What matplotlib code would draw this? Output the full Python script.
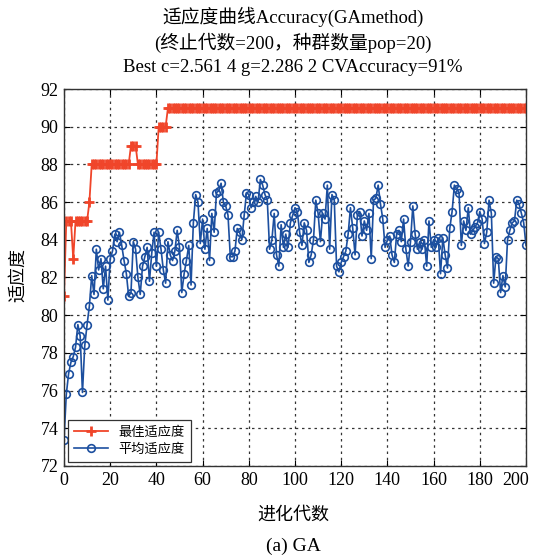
# -*- coding: utf-8 -*-
"""
GA fitness curve (best / mean fitness vs generation)
"""

import numpy as np
import matplotlib.pyplot as plt
import matplotlib.transforms as mtransforms

# Best fitness: step values and how many generations each one lasts
best_levels = [81, 85, 83, 85, 86, 88, 89, 88, 90, 91]
best_runs = [1, 3, 1, 6, 1, 17, 3, 9, 4, 156]

# Mean fitness per generation (0..200)
mean_fit = [
    73.4, 75.8, 76.9, 77.5, 77.8, 78.3, 79.5, 78.9, 75.9, 78.4,
    79.5, 80.5, 82.1, 81.1, 83.5, 82.4, 83.0, 81.4, 82.6, 80.8,
    83.0, 83.4, 84.3, 83.9, 84.4, 83.7, 82.9, 82.2, 81.0, 81.2,
    83.9, 83.5, 82.0, 81.1, 82.6, 83.1, 83.6, 81.8, 83.3, 84.4,
    82.6, 84.4, 83.5, 82.4, 81.7, 83.9, 83.2, 82.9, 83.4, 84.5,
    83.6, 81.2, 82.2, 82.9, 83.7, 81.6, 84.9, 86.4, 86.0, 83.8,
    85.1, 83.5, 84.6, 82.9, 85.4, 84.4, 86.5, 86.6, 87.0, 86.0,
    85.8, 85.3, 83.1, 83.1, 83.4, 84.6, 84.4, 84.0, 85.3, 86.5,
    86.4, 85.7, 86.0, 86.3, 86.0, 87.2, 86.9, 86.4, 86.1, 83.5,
    84.0, 85.4, 83.2, 82.6, 84.8, 83.6, 84.3, 83.6, 84.9, 85.3,
    85.7, 85.5, 84.4, 83.7, 84.9, 84.5, 82.8, 83.2, 84.0, 86.1,
    85.4, 83.9, 85.4, 85.1, 86.9, 83.5, 86.4, 86.1, 82.6, 82.3,
    82.8, 83.1, 83.4, 84.3, 85.7, 84.6, 83.2, 85.3, 85.5, 84.2,
    85.0, 84.5, 85.4, 83.0, 86.1, 86.2, 86.9, 85.9, 85.1, 83.6,
    84.0, 84.2, 83.2, 82.8, 84.3, 84.5, 83.9, 85.1, 83.5, 82.6,
    83.9, 85.8, 84.3, 83.5, 83.9, 83.5, 84.0, 82.6, 85.0, 83.6,
    84.0, 83.6, 84.1, 82.2, 84.1, 83.2, 82.5, 84.6, 85.5, 86.9,
    86.7, 86.5, 83.7, 85.0, 84.5, 85.7, 84.3, 84.5, 84.7, 84.9,
    85.5, 85.1, 83.8, 84.4, 86.1, 85.4, 81.7, 83.1, 83.0, 81.2,
    82.1, 81.5, 84.0, 84.5, 84.9, 85.0, 86.1, 85.9, 85.4, 84.9,
    83.7,
]

gen = np.arange(len(mean_fit))
best_fit = np.repeat(best_levels, best_runs)

serif = ["Liberation Serif", "Noto Sans CJK SC"]
cjk = ["Noto Sans CJK SC", "DejaVu Sans"]

fig = plt.figure(figsize=(5.35, 5.58), dpi=100)
ax = fig.add_axes([0.1196, 0.1649, 0.8636, 0.6756])

ax.plot(gen, best_fit, "-+", color="#f0452a", lw=1.3, ms=7.5, mew=2.0,
        label="最佳适应度")
ax.plot(gen, mean_fit, "-o", color="#1c4f9f", lw=1.2, ms=5.5, mew=1.2,
        mfc="none", label="平均适应度")

ax.set_xlim(0, 200)
ax.set_ylim(72, 92)
ax.set_xticks(np.arange(0, 201, 20))
ax.set_yticks(np.arange(72, 93, 2))
ax.grid(True, linestyle=(0, (2, 3)), color="#333333", lw=0.9)
ax.tick_params(direction="in", top=True, right=True, length=4, pad=4)
for lab in ax.get_xticklabels() + ax.get_yticklabels():
    lab.set_family(serif)
    lab.set_fontsize(13)
# last x label sits a bit left so it stays inside the figure
last = ax.get_xticklabels()[-1]
last.set_transform(last.get_transform() +
                   mtransforms.ScaledTranslation(-0.1, 0, fig.dpi_scale_trans))
for s in ax.spines.values():
    s.set_linewidth(1.0)
    s.set_color("#333333")

leg = ax.legend(loc="lower left", prop={"family": cjk, "size": 9.5},
                fancybox=False, edgecolor="#333333", framealpha=1,
                borderaxespad=0.3, handlelength=2.6, borderpad=0.45,
                labelspacing=0.35)
leg.get_frame().set_linewidth(0.9)

fig.text(0.034, 0.507, "适应度", rotation=90, ha="center", va="center",
         family=cjk, fontsize=13)
fig.text(0.548, 0.077, "进化代数", ha="center", va="center",
         family=cjk, fontsize=13)
fig.text(0.548, 0.020, "(a) GA", ha="center", va="center",
         family=serif, fontsize=14)

titles = ["适应度曲线Accuracy(GAmethod)",
          "(终止代数=200，种群数量pop=20)",
          "Best c=2.561 4 g=2.286 2 CVAccuracy=91%"]
for i, t in enumerate(titles):
    fig.text(0.548, 0.969 - i * 0.045, t, ha="center", va="center",
             family=serif, fontsize=13.5)

fig.savefig("out.png", dpi=100)
